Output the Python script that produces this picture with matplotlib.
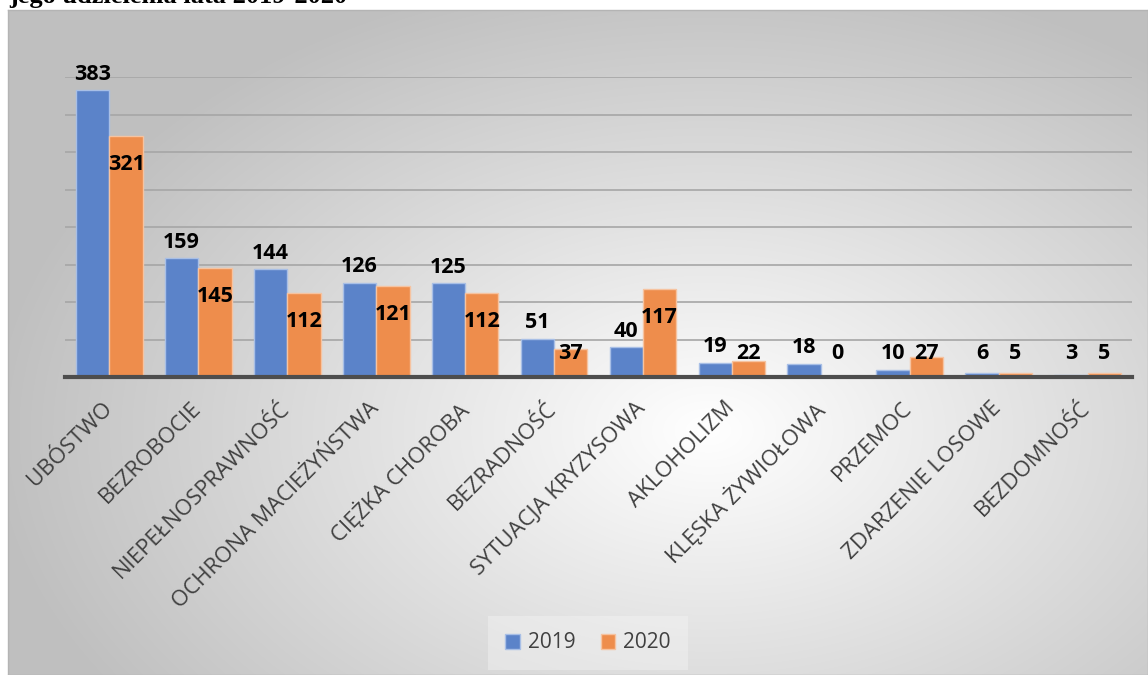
import matplotlib.pyplot as plt
import matplotlib.transforms as mtransforms
import numpy as np
from matplotlib.patches import Patch

# dane
kategorie = ['UBÓSTWO', 'BEZROBOCIE', 'NIEPEŁNOSPRAWNOŚĆ', 'OCHRONA MACIEŻYŃSTWA',
             'CIĘŻKA CHOROBA', 'BEZRADNOŚĆ', 'SYTUACJA KRYZYSOWA', 'AKLOHOLIZM',
             'KLĘSKA ŻYWIOŁOWA', 'PRZEMOC', 'ZDARZENIE LOSOWE', 'BEZDOMNOŚĆ']
rok_2019 = [383, 159, 144, 126, 125, 51, 40, 19, 18, 10, 6, 3]
rok_2020 = [321, 145, 112, 121, 112, 37, 117, 22, 0, 27, 5, 5]
lata = ['2019', '2020']

plt.rcParams['font.family'] = ['Open Sans', 'DejaVu Sans']

W, H = 1148, 675
fig = plt.figure(figsize=(W / 100, H / 100), dpi=100)

# tlo z gradientem
bg = fig.add_axes([8 / W, 0, 1 - 8 / W, 1 - 10 / H])
yy, xx = np.mgrid[0:665, 0:1140]
d = np.sqrt(((xx - 700) / 720) ** 2 + ((yy - 420) / 470) ** 2)
g = 1 - 0.25 * np.clip(d, 0, 1)
bg.imshow(np.dstack([g, g, g]), aspect='auto', extent=[0, 1, 0, 1], interpolation='bilinear')
bg.set_xticks([])
bg.set_yticks([])
for s in bg.spines.values():
    s.set_color('#b4b4b4')
    s.set_linewidth(1)

fig.text(9 / W, 1 - 3.5 / H, 'jego udzielenia lata 2019-2020', fontsize=19,
         fontweight='bold', family='Liberation Serif', va='baseline', ha='left')

ax = fig.add_axes([65 / W, 1 - 377 / H, 1067 / W, 300 / H])
ax.patch.set_alpha(0)
x = np.arange(len(kategorie))
w = 0.375
ax.bar(x - w / 2, rok_2019, w, color='#5b83c9', edgecolor='#a8bfe6', linewidth=1, zorder=3)
ax.bar(x + w / 2, rok_2020, w, color='#ee8d4c', edgecolor='#f6c3a0', linewidth=1, zorder=3)

for i, v in enumerate(rok_2019):
    ax.text(i - w / 2, max(v + 21, 31), str(v), ha='center', va='center',
            fontsize=15.5, fontweight='bold', color='black', zorder=4)
for i, v in enumerate(rok_2020):
    ax.text(i + w / 2, max(v - 38, 31), str(v), ha='center', va='center',
            fontsize=15.5, fontweight='bold', color='black', zorder=4)

ax.set_xlim(-0.5, len(kategorie) - 0.5)
ax.set_ylim(0, 400)
ax.set_yticks(range(50, 401, 50))
ax.yaxis.grid(True, color='#a6a6a6', linewidth=1.2, zorder=0)
ax.tick_params(axis='y', left=False, labelleft=False)
ax.set_xticks(x)
ax.set_xticklabels(kategorie, rotation=45, ha='right', rotation_mode='anchor',
                   fontsize=16, color='#404040')
ax.tick_params(axis='x', length=0, pad=15)
przesun = mtransforms.ScaledTranslation(-8 / 100, 0, fig.dpi_scale_trans)
for lab in ax.get_xticklabels():
    lab.set_transform(lab.get_transform() + przesun)
for s in ['top', 'right', 'left']:
    ax.spines[s].set_visible(False)
ax.spines['bottom'].set_color('#4d4d4d')
ax.spines['bottom'].set_linewidth(3)
ax.spines['bottom'].set_zorder(5)

uchwyty = [Patch(facecolor='#5b83c9', edgecolor='#a8bfe6'),
           Patch(facecolor='#ee8d4c', edgecolor='#f6c3a0')]
leg = fig.legend(uchwyty, lata, loc='center', bbox_to_anchor=(588 / W, 1 - 643 / H),
                 ncol=2, fontsize=15, frameon=True, handlelength=0.7, handleheight=0.7,
                 handletextpad=0.4, columnspacing=1.2, borderpad=0.5)
leg.get_frame().set_facecolor('#f6f6f6')
leg.get_frame().set_alpha(0.4)
leg.get_frame().set_edgecolor('none')
leg.get_frame().set_boxstyle('square')
for t in leg.get_texts():
    t.set_color('#404040')

fig.savefig('out.png', dpi=100)
